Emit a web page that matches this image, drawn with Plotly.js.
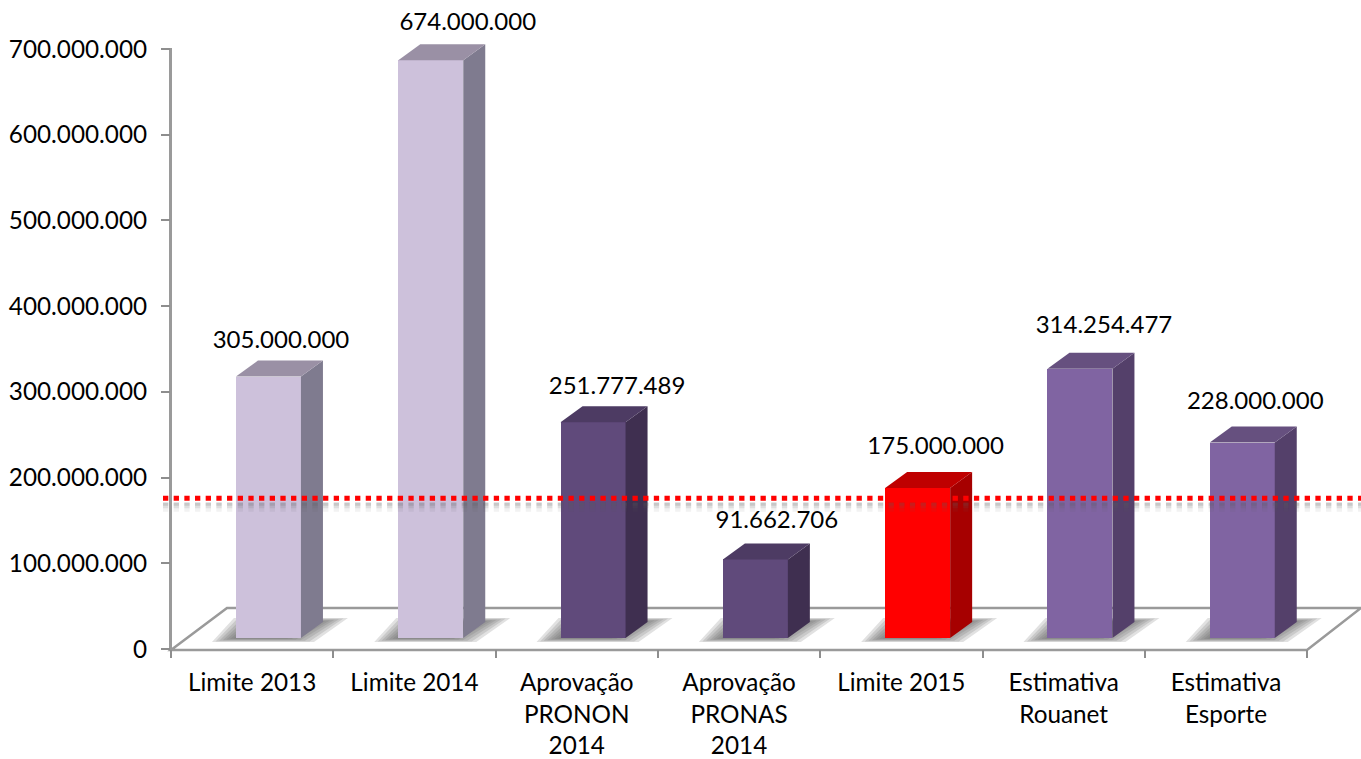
<!DOCTYPE html>
<html>
<head>
<meta charset="utf-8">
<script src="https://cdn.plot.ly/plotly-3.0.1.min.js"></script>
<style>html,body{margin:0;padding:0;background:#fff}</style>
</head>
<body>
<div id="chart" style="width:1361px;height:759px"></div>
<script>
// ---- data ----
var categories = ['Limite 2013','Limite 2014','Aprovação<br>PRONON<br>2014','Aprovação<br>PRONAS<br>2014','Limite 2015','Estimativa<br>Rouanet','Estimativa<br>Esporte'];
var values = [305000000,674000000,251777489,91662706,175000000,314254477,228000000];
var valueLabels = ['305.000.000','674.000.000','251.777.489','91.662.706','175.000.000','314.254.477','228.000.000'];
var referenceValue = 176000000;
var yTickValues = [0,100000000,200000000,300000000,400000000,500000000,600000000,700000000];
var yTickLabels = ['0','100.000.000','200.000.000','300.000.000','400.000.000','500.000.000','600.000.000','700.000.000'];
// ---- styles ----
var frontColors = ['#CDC1DB','#CDC1DB','#604A7B','#604A7B','#FF0000','#8064A2','#8064A2'];
var sideColors  = ['#7F7B8F','#7F7B8F','#3F2F50','#3F2F50','#A60000','#54406A','#54406A'];
var topColors   = ['#9A90A5','#9A90A5','#4D3B63','#4D3B63','#BF0000','#66507F','#66507F'];
var labelShiftX = [12.5,37,24,21.5,18,24,13];
var labelShiftY = [19,20,18,21,24,26,24];
// ---- geometry constants (pixels of the drawing) ----
var W = 1361, H = 759, L = 171, T = 49, B = 649;
var pxPerCat = 162.3, yMax = 700000000;
var xMax = -0.5 + (W - L) / pxPerCat;
var yTop = yMax * B / (B - T);
var dx = function(p){ return p / pxPerCat; };
var dy = function(p){ return p * yMax / (B - T); };
var px = function(p){ return (p - L) / (W - L); };
var py = function(p){ return 1 - p / B; };
var barW = 65, barShift = 16.3, baseUp = 11, depthX = 22, depthY = 16;
var baseVal = dy(baseUp);
var axisGray = '#9A9A9A';
var font = 'Lato, Carlito, Calibri, sans-serif';

var traces = [];
var xs = categories.map(function(_, i){ return i + dx(barShift); });

// soft floor shadows: stacked translucent footprints, each layer inset from the last
[0,1,2,3,4,5,6].forEach(function(k){
  var sx = [], sy = [];
  xs.forEach(function(cx){
    var l = cx - dx(barW/2), r = cx + dx(barW/2);
    var low = baseVal - dy(4) + dy(0.6*k), high = baseVal + dy(20) - dy(0.6*k);
    sx.push(l-dx(24)+dx(3.6*k), l-dx(2)+dx(3.6*k), r+dx(47)-dx(4.5*k), r+dx(13)-dx(4.5*k), null);
    sy.push(low, high, high, low, null);
  });
  traces.push({type:'scatter',mode:'none',fill:'toself',xaxis:'x',yaxis:'y',hoverinfo:'skip',showlegend:false,
    x:sx,y:sy,fillcolor:'rgba(105,105,105,0.2)'});
});

// front faces
traces.push({type:'bar',xaxis:'x2',yaxis:'y2',x:xs,y:values,base:baseVal,width:dx(barW),
  marker:{color:frontColors,line:{width:0}},hoverinfo:'skip',showlegend:false});

// side and top faces, from the same values
xs.forEach(function(cx,i){
  var r = cx + dx(barW/2), l = cx - dx(barW/2), t = values[i] + baseVal;
  traces.push({type:'scatter',mode:'lines',fill:'toself',xaxis:'x2',yaxis:'y2',hoverinfo:'skip',showlegend:false,
    x:[r,r+dx(depthX),r+dx(depthX),r,r],
    y:[baseVal,baseVal+dy(depthY),t+dy(depthY),t,baseVal],
    line:{width:0},fillcolor:sideColors[i]});
  traces.push({type:'scatter',mode:'lines',fill:'toself',xaxis:'x2',yaxis:'y2',hoverinfo:'skip',showlegend:false,
    x:[l,l+dx(depthX),r+dx(depthX),r,l],
    y:[t,t+dy(depthY),t+dy(depthY),t,t],
    line:{width:0},fillcolor:topColors[i]});
});

// value labels
traces.push({type:'scatter',mode:'text',xaxis:'x2',yaxis:'y2',hoverinfo:'skip',showlegend:false,cliponaxis:false,
  x:xs.map(function(c,i){ return c + dx(labelShiftX[i]); }),
  y:values.map(function(v,i){ return v + baseVal + dy(depthY + labelShiftY[i]); }),
  text:valueLabels,textposition:'middle center',textfont:{family:font,size:24,color:'#000'}});

var boundaries = categories.map(function(_, i){ return i - 0.5; }).concat([categories.length - 0.5]);
var centres = categories.map(function(_, i){ return i; });
var refDash = '5.3px,5.37px';
var refLine = function(offset,width,color){
  return {type:'line',xref:'paper',yref:'y',x0:px(163),x1:1,
    y0:referenceValue-dy(offset),y1:referenceValue-dy(offset),layer:'above',
    line:{color:color,width:width,dash:refDash}};
};
var floorPath = 'M'+px(171)+','+py(650)+' L'+px(1307)+','+py(650)+' L'+px(1361)+','+py(608)+' L'+px(227)+','+py(608)+' Z';

var layout = {
  width:W,height:H,
  margin:{l:L,r:0,t:0,b:H-B,pad:0},
  paper_bgcolor:'#fff',plot_bgcolor:'rgba(0,0,0,0)',
  showlegend:false,bargap:0,barmode:'overlay',
  font:{family:font,size:24,color:'#000'},
  xaxis:{range:[-0.5,xMax],tickmode:'array',tickvals:centres,ticktext:categories,
    showgrid:false,zeroline:false,showline:false,ticks:'outside',ticklen:12,tickcolor:'rgba(0,0,0,0)',
    tickfont:{family:font,size:24.3,color:'#000'},tickangle:0},
  xaxis2:{range:[-0.5,xMax],overlaying:'x',anchor:'y2',side:'bottom',tickmode:'array',tickvals:boundaries,
    showticklabels:false,showgrid:false,zeroline:false,showline:false,ticks:'outside',ticklen:8,tickwidth:2,tickcolor:'#8E8E8E'},
  yaxis:{range:[0,yTop],tickmode:'array',tickvals:yTickValues,ticktext:yTickLabels,
    showgrid:false,zeroline:false,showline:false,
    ticks:'outside',ticklen:9,tickwidth:2,tickcolor:'#8E8E8E',ticklabelstandoff:9,
    tickfont:{family:font,size:24.3,color:'#000'}},
  yaxis2:{range:[0,yTop],overlaying:'y',anchor:'x2',visible:false},
  shapes:[
    {type:'path',xref:'paper',yref:'paper',layer:'below',path:floorPath,line:{color:axisGray,width:2.5}},
    {type:'line',xref:'paper',yref:'paper',layer:'below',x0:px(170.5),x1:px(170.5),y0:py(650),y1:py(48),line:{color:axisGray,width:3}},
    refLine(9,9,'rgba(90,90,90,0.08)'),
    refLine(7,6,'rgba(90,90,90,0.13)'),
    refLine(6,3,'rgba(90,90,90,0.17)'),
    refLine(0,5,'#FF0000')
  ]
};
Plotly.newPlot('chart',traces,layout,{displayModeBar:false,responsive:false});
</script>
</body>
</html>
